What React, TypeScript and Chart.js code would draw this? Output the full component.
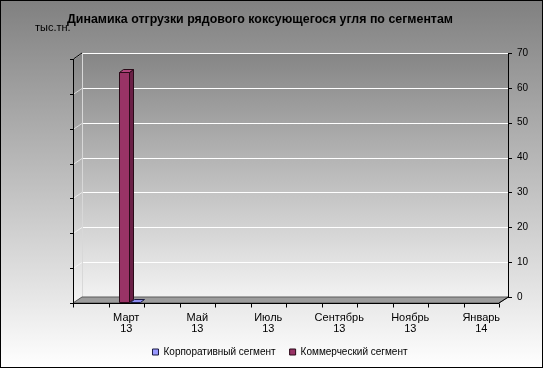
import React, { useEffect, useRef } from "react";
import { Chart, registerables } from "chart.js";

Chart.register(...registerables);

// ---------- data ----------
const titleText = "Динамика отгрузки рядового коксующегося угля по сегментам";
const unitText = "тыс.тн.";
const months = ["Февраль", "Март", "Апрель", "Май", "Июнь", "Июль", "Август", "Сентябрь", "Октябрь", "Ноябрь", "Декабрь", "Январь"];
const years = ["13", "13", "13", "13", "13", "13", "13", "13", "13", "13", "13", "14"];
const seriesNames = ["Корпоративный сегмент", "Коммерческий сегмент"];
const corporateValues: (number | null)[] = [null, 0, null, null, null, null, null, null, null, null, null, null];
const commercialValues: (number | null)[] = [null, 66, null, null, null, null, null, null, null, null, null, null];
const yMin = 0;
const yMax = 70;
const yStep = 10;

// ---------- styles ----------
const FONT = '"Liberation Sans", Arial, Helvetica, sans-serif';
const DX = 9; // wall depth x
const DY = 6; // wall depth y
const BDX = 4; // bar depth x
const BDY = 3; // bar depth y
const FRONT = 5; // bar front plane offset (y)
const SHIFT = 3; // bar front plane offset (x)
const LEGEND_PAD = 14;
const faceColors = [
  { front: "#9999ff", side: "#6b6bc8", top: "#8c8cf0", line: "#1a1a40" },
  { front: "#993366", side: "#6a2046", top: "#b0457c", line: "#2a0a18" },
];

const scenePlugin = {
  id: "scene3d",
  beforeDraw(chart: any) {
    const { ctx, width, height, chartArea: ca, scales } = chart;
    const ys = scales.y;
    const xs = scales.x;
    ctx.save();
    // page background
    let g = ctx.createLinearGradient(0, 0, 0, height);
    g.addColorStop(0, "#808080");
    g.addColorStop(1, "#ffffff");
    ctx.fillStyle = g;
    ctx.fillRect(0, 0, width, height);

    const wl = ca.left + DX;
    const wr = ca.right + DX;
    const wt = ca.top;
    const wb = ca.bottom;
    // back wall
    g = ctx.createLinearGradient(0, wt, 0, wb);
    g.addColorStop(0, "#858585");
    g.addColorStop(1, "#f2f2f2");
    ctx.fillStyle = g;
    ctx.fillRect(wl, wt, wr - wl, wb - wt);
    // side wall
    ctx.beginPath();
    ctx.moveTo(ca.left, wt + DY);
    ctx.lineTo(wl, wt);
    ctx.lineTo(wl, wb);
    ctx.lineTo(ca.left, wb + DY);
    ctx.closePath();
    ctx.fill();

    // gridlines
    ctx.lineWidth = 1;
    ys.ticks.forEach((t: any) => {
      if (t.value === yMin) return;
      const py = Math.round(ys.getPixelForValue(t.value)) + 0.5;
      ctx.strokeStyle = "#ffffff";
      ctx.beginPath();
      ctx.moveTo(wl, py);
      ctx.lineTo(wr, py);
      ctx.stroke();
      ctx.strokeStyle = "rgba(255,255,255,0.6)";
      ctx.beginPath();
      ctx.moveTo(ca.left, py + DY);
      ctx.lineTo(wl, py);
      ctx.stroke();
    });
    // wall left edge
    ctx.strokeStyle = "#d8d8d8";
    ctx.beginPath();
    ctx.moveTo(wl + 0.5, wt);
    ctx.lineTo(wl + 0.5, wb);
    ctx.stroke();

    // floor
    ctx.beginPath();
    ctx.moveTo(ca.left, wb + DY);
    ctx.lineTo(wl, wb);
    ctx.lineTo(wr, wb);
    ctx.lineTo(ca.right, wb + DY);
    ctx.closePath();
    ctx.fillStyle = "#9c9c9c";
    ctx.fill();
    ctx.strokeStyle = "#5a5a5a";
    ctx.stroke();

    // left axis
    ctx.strokeStyle = "#000";
    ctx.beginPath();
    ctx.moveTo(wl, wt);
    ctx.lineTo(ca.left + 0.5, wt + DY);
    ctx.lineTo(ca.left + 0.5, wb + DY);
    ctx.stroke();
    ys.ticks.forEach((t: any) => {
      const py = Math.round(ys.getPixelForValue(t.value)) + 0.5 + DY;
      ctx.beginPath();
      ctx.moveTo(ca.left - 3, py);
      ctx.lineTo(ca.left + 0.5, py);
      ctx.stroke();
    });

    // right axis
    ctx.beginPath();
    ctx.moveTo(wr + 0.5, wt);
    ctx.lineTo(wr + 0.5, wb);
    ctx.lineTo(ca.right, wb + DY);
    ctx.stroke();
    ys.ticks.forEach((t: any) => {
      const py = Math.round(ys.getPixelForValue(t.value)) + 0.5;
      ctx.beginPath();
      ctx.moveTo(wr, py);
      ctx.lineTo(wr + 4, py);
      ctx.stroke();
    });

    // x axis front edge & ticks
    const fy = Math.round(wb + DY) + 0.5;
    ctx.beginPath();
    ctx.moveTo(ca.left, fy);
    ctx.lineTo(ca.right, fy);
    ctx.stroke();
    const n = xs.ticks.length;
    const cw = (ca.right - ca.left) / n;
    for (let i = 0; i <= n; i++) {
      const bx = Math.round(i < n ? xs.getPixelForValue(i) - cw / 2 : xs.getPixelForValue(n - 1) + cw / 2) + 0.5;
      ctx.beginPath();
      ctx.moveTo(bx, fy);
      ctx.lineTo(bx, fy + 4);
      ctx.stroke();
    }

    // title & unit
    ctx.fillStyle = "#000";
    ctx.textBaseline = "alphabetic";
    ctx.textAlign = "center";
    ctx.font = "bold 12.4px " + FONT;
    ctx.fillText(titleText, 260, 23);
    ctx.textAlign = "left";
    ctx.font = "11px " + FONT;
    ctx.fillText(unitText, 35, 31);
    ctx.restore();
  },
  beforeDatasetDraw() {
    return false;
  },
  afterDatasetsDraw(chart: any) {
    const ctx = chart.ctx;
    ctx.save();
    ctx.lineWidth = 1;
    chart.getSortedVisibleDatasetMetas().forEach((meta: any) => {
      const ds = chart.data.datasets[meta.index];
      const c = faceColors[meta.index];
      meta.data.forEach((el: any, i: number) => {
        if (ds.data[i] == null) return;
        const p = el.getProps(["x", "y", "base", "width"], true);
        const l = Math.round(p.x - p.width / 2 + SHIFT) + 0.5;
        const r = Math.round(p.x + p.width / 2 + SHIFT) + 0.5;
        const t = Math.round(p.y + FRONT) + 0.5;
        const b = Math.round(p.base + FRONT) + 0.5;
        ctx.strokeStyle = c.line;
        const poly = (pts: number[][], fill: string) => {
          ctx.beginPath();
          ctx.moveTo(pts[0][0], pts[0][1]);
          for (let k = 1; k < pts.length; k++) ctx.lineTo(pts[k][0], pts[k][1]);
          ctx.closePath();
          ctx.fillStyle = fill;
          ctx.fill();
          ctx.stroke();
        };
        if (b - t > 0.5) {
          poly([[r, t], [r + BDX, t - BDY], [r + BDX, b - BDY], [r, b]], c.side);
        }
        poly([[l, t], [l + BDX, t - BDY], [r + BDX, t - BDY], [r, t]], c.top);
        if (b - t > 0.5) {
          poly([[l, t], [r, t], [r, b], [l, b]], c.front);
        }
      });
    });
    ctx.restore();
  },
  afterDraw(chart: any) {
    const { ctx, width, height } = chart;
    ctx.save();
    ctx.strokeStyle = "#000";
    ctx.lineWidth = 1;
    ctx.strokeRect(0.5, 0.5, width - 1, height - 1);
    ctx.restore();
  },
};

export default function App() {
  const ref = useRef<HTMLCanvasElement | null>(null);
  useEffect(() => {
    document.body.style.margin = "0";
    if (!ref.current) return;
    Chart.defaults.font.family = FONT;
    const chart = new Chart(ref.current, {
      type: "bar",
      data: {
        labels: months.map((m, i) => m + " " + years[i]),
        datasets: [
          {
            label: seriesNames[0],
            data: corporateValues,
            backgroundColor: faceColors[0].front,
            borderColor: faceColors[0].line,
            borderWidth: 1,
            order: 1,
          },
          {
            label: seriesNames[1],
            data: commercialValues,
            backgroundColor: faceColors[1].front,
            borderColor: faceColors[1].line,
            borderWidth: 1,
            order: 0,
          },
        ],
      },
      options: {
        responsive: false,
        animation: false,
        devicePixelRatio: 1,
        categoryPercentage: 0.62,
        barPercentage: 0.9,
        layout: { padding: { left: 17, right: 0, top: 53, bottom: 1 } },
        plugins: {
          title: { display: false },
          tooltip: { enabled: false },
          legend: {
            position: "bottom",
            labels: {
              color: "#000",
              font: { size: 10, family: FONT },
              boxWidth: 6,
              boxHeight: 6,
              padding: LEGEND_PAD,
              sort: (a: any, b: any) => a.datasetIndex - b.datasetIndex,
            },
          },
        },
        scales: {
          x: {
            offset: true,
            grid: { display: false, drawTicks: false },
            border: { display: false },
            ticks: {
              autoSkip: false,
              maxRotation: 0,
              minRotation: 0,
              padding: 15,
              color: "#000",
              font: { size: 11, family: FONT, lineHeight: 1.05 },
              callback: (_v: any, i: number) => (i % 2 === 1 ? [months[i], years[i]] : ""),
            },
            afterFit: (s: any) => {
              s.height = 50 - LEGEND_PAD;
            },
          },
          y: {
            position: "right",
            min: yMin,
            max: yMax,
            grid: { display: false, drawTicks: false },
            border: { display: false },
            ticks: {
              stepSize: yStep,
              padding: 18,
              color: "#000",
              font: { size: 10, family: FONT },
            },
            afterFit: (s: any) => {
              s.width = 44;
            },
          },
          yl: {
            type: "linear",
            axis: "y",
            position: "left",
            grid: { display: false, drawTicks: false },
            border: { display: false },
            ticks: { display: false },
            afterFit: (s: any) => {
              s.width = 56;
            },
          },
        },
      } as any,
      plugins: [scenePlugin as any],
    });
    return () => chart.destroy();
  }, []);
  return <canvas ref={ref} width={543} height={368} style={{ display: "block", width: 543, height: 368 }} />;
}
